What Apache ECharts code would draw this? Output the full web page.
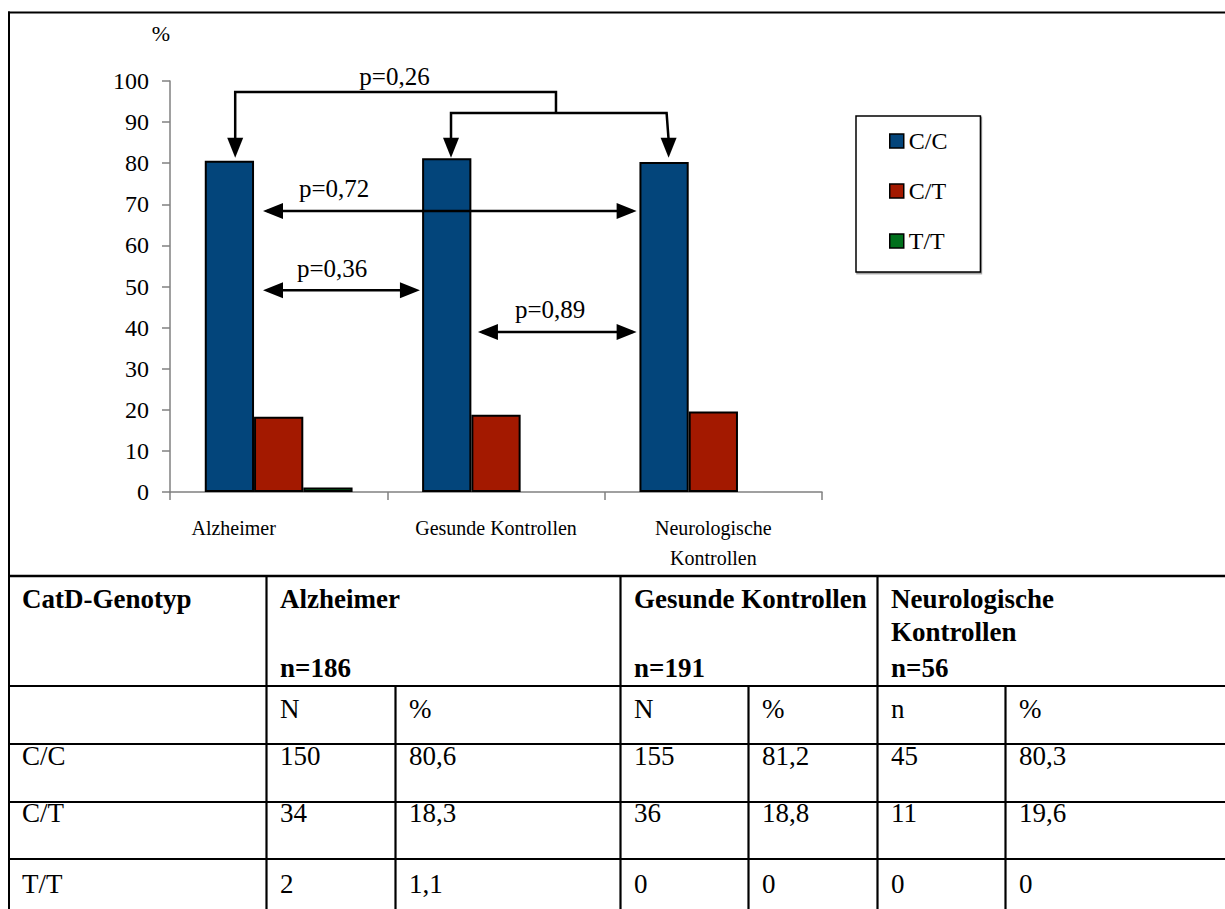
<!DOCTYPE html>
<html>
<head>
<meta charset="utf-8">
<title>CatD-Genotyp</title>
<script src="https://cdn.jsdelivr.net/npm/echarts@6/dist/echarts.min.js"></script>
<style>
  html, body { margin: 0; padding: 0; background: #fff; }
  #chart { width: 1225px; height: 909px; }
</style>
</head>
<body>
<div id="chart"></div>
<script>
// Patient groups and genotypes
const groups = ['Alzheimer', 'Gesunde Kontrollen', 'Neurologische\nKontrollen'];
const genotypes = ['C/C', 'C/T', 'T/T'];
const groupSizes = [186, 191, 56];
const countHeaders = ['N', 'N', 'n'];

// Absolute counts per genotype
const countCC = [150, 155, 45];
const countCT = [34, 36, 11];
const countTT = [2, 0, 0];

// Percentages per genotype (bar heights)
const pctCC = [80.6, 81.2, 80.3];
const pctCT = [18.3, 18.8, 19.6];
const pctTT = [1.1, 0, 0];

// Value axis
const yMin = 0;
const yMax = 100;
const yStep = 10;

// p-values of the pairwise group comparisons
const pLabels = ['p=0,26', 'p=0,72', 'p=0,36', 'p=0,89'];

const colors = ['#03457B', '#A31900', '#00701C'];
const FONT = 'Liberation Serif, Times New Roman, serif';

const pctSeries = [pctCC, pctCT, pctTT];

const chart = echarts.init(document.getElementById('chart'), null, { renderer: 'svg' });

const option = {
  animation: false,
  backgroundColor: '#fff',
  grid: { left: 170, right: 403, top: 81, bottom: 417, containLabel: false, outerBoundsMode: 'none' },
  legend: {
    orient: 'vertical',
    left: 856,
    top: 116,
    data: genotypes,
    icon: 'rect',
    itemWidth: 14,
    itemHeight: 14,
    itemGap: 26,
    padding: [13, 33, 19, 33],
    borderColor: '#000',
    borderWidth: 1.5,
    backgroundColor: '#fff',
    shadowColor: 'rgba(0,0,0,0.4)',
    shadowOffsetX: 1,
    shadowOffsetY: 1.5,
    shadowBlur: 0,
    selectedMode: false,
    itemStyle: { borderColor: '#000', borderWidth: 1.5 },
    textStyle: { fontFamily: FONT, fontSize: 24, lineHeight: 24, color: '#000' }
  },
  xAxis: {
    type: 'category',
    data: groups,
    boundaryGap: true,
    axisLine: { lineStyle: { color: '#808080', width: 1.5 } },
    axisTick: { show: true, length: 8, alignWithLabel: false, lineStyle: { color: '#808080', width: 1.5 } },
    axisLabel: {
      interval: 0,
      margin: 21,
      color: '#000',
      fontFamily: FONT,
      fontSize: 20,
      lineHeight: 30,
      formatter: (value, index) => index === 0 ? '{shift|' + value + '}' : value,
      rich: {
        shift: { padding: [0, 90, 0, 0], fontFamily: FONT, fontSize: 20, lineHeight: 30, color: '#000' }
      }
    },
    splitLine: { show: false }
  },
  yAxis: {
    type: 'value',
    min: yMin,
    max: yMax,
    interval: yStep,
    name: '%',
    nameLocation: 'end',
    nameGap: 37,
    nameTextStyle: { fontFamily: FONT, fontSize: 22, lineHeight: 22, color: '#000', align: 'right', verticalAlign: 'bottom' },
    axisLine: { show: true, lineStyle: { color: '#808080', width: 1.5 } },
    axisTick: { show: true, length: 8, lineStyle: { color: '#808080', width: 1.5 } },
    axisLabel: { margin: 21, color: '#000', fontFamily: FONT, fontSize: 24 },
    splitLine: { show: false }
  },
  series: genotypes.map((g, i) => ({
    name: g,
    type: 'bar',
    barGap: '0%',
    barCategoryGap: '32%',
    itemStyle: { color: colors[i], borderColor: '#000', borderWidth: 2 },
    emphasis: { disabled: true },
    data: pctSeries[i].map(v => v === 0 ? { value: 0, itemStyle: { borderWidth: 0 } } : v)
  }))
};

chart.setOption(option);

// ---- comparison arrows, placed through the chart's own scales ----
const band = chart.convertToPixel({ xAxisIndex: 0 }, 1) - chart.convertToPixel({ xAxisIndex: 0 }, 0);
const px = (cat, frac) => chart.convertToPixel({ xAxisIndex: 0 }, cat) + frac * band;
const py = v => chart.convertToPixel({ yAxisIndex: 0 }, v);

const LW = 2.5;
const HEAD_L = 20, HEAD_W = 8;
const lineStyle = { stroke: '#000', lineWidth: LW, fill: null };

function polyline(points) {
  return { type: 'polyline', shape: { points }, style: lineStyle, silent: true, z: 50 };
}
function head(points) {
  return { type: 'polygon', shape: { points }, style: { fill: '#000' }, silent: true, z: 51 };
}
function headDown(x, tip) { return head([[x - HEAD_W, tip - HEAD_L], [x + HEAD_W, tip - HEAD_L], [x, tip]]); }
function headLeft(tip, y) { return head([[tip, y], [tip + HEAD_L, y - HEAD_W], [tip + HEAD_L, y + HEAD_W]]); }
function headRight(tip, y) { return head([[tip, y], [tip - HEAD_L, y - HEAD_W], [tip - HEAD_L, y + HEAD_W]]); }
function doubleArrow(x1, x2, y) {
  return [polyline([[x1 + 4, y], [x2 - 4, y]]), headLeft(x1, y), headRight(x2, y)];
}
function label(x, baseline, text, size, opts) {
  const o = opts || {};
  return {
    type: 'text', x, y: baseline - 0.34 * size, silent: true, z: 60,
    style: {
      text, fill: '#000', fontFamily: FONT, fontSize: size, fontWeight: o.bold ? 'bold' : 'normal',
      align: o.align || 'left', verticalAlign: 'middle', lineHeight: size
    }
  };
}

const annot = [];
// bracket: Alzheimer vs. both control groups
const yTop = py(97.3), yMid = py(92.2), yTip = py(81.3);
const xA = px(0, -0.2), xJ = px(1, 0.276), xG = px(1, -0.207), xN = px(2, -0.215);
annot.push(polyline([[xA, yTip - HEAD_L + 2], [xA, yTop], [xJ, yTop], [xJ, yMid]]));
annot.push(polyline([[xG, yTip - HEAD_L + 2], [xG, yMid], [xN, yMid], [xN + 2, yTip - HEAD_L + 2]]));
annot.push(headDown(xA, yTip), headDown(xG, yTip), headDown(xN + 2, yTip));
annot.push(label(px(0, 0.533), py(99.0), pLabels[0], 25, { align: 'center' }));

// pairwise double arrows
annot.push(...doubleArrow(px(0, -0.072), px(2, -0.353), py(68.4)));
annot.push(label(px(0, 0.255), py(71.8), pLabels[1], 25, { align: 'center' }));
annot.push(...doubleArrow(px(0, -0.072), px(1, -0.35), py(49.1)));
annot.push(label(px(0, 0.246), py(52.3), pLabels[2], 25, { align: 'center' }));
annot.push(...doubleArrow(px(1, -0.083), px(2, -0.353), py(38.9)));
annot.push(label(px(1, 0.249), py(42.3), pLabels[3], 25, { align: 'center' }));

// ---- frame and table ----
const W = 1225, H = 909;
const frameLeft = 9, frameTop = 12.5;
const colLines = [266, 395, 620, 748, 877, 1005];
const groupCols = [266, 620, 877];
const rowLines = [576, 686, 744, 802, 859];
const TXT_PAD = 14;
const TFS = 27;

function seg(x1, y1, x2, y2, w) {
  return { type: 'line', shape: { x1, y1, x2, y2 }, style: { stroke: '#000', lineWidth: w || 2 }, silent: true, z: 40 };
}

const table = [];
table.push(seg(frameLeft, frameTop - 1, frameLeft, H, 2));
table.push(seg(frameLeft - 1, frameTop, W, frameTop, 2));
rowLines.forEach((y, i) => table.push(seg(frameLeft - 1, y, W, y, i === 0 ? 2.5 : 2.2)));
colLines.forEach(x => {
  const y0 = groupCols.includes(x) ? rowLines[0] : rowLines[1];
  table.push(seg(x + 0.5, y0, x + 0.5, H, 2.2));
});

// header row
table.push(label(frameLeft + 13, 608, 'CatD-Genotyp', TFS, { bold: true }));
groups.forEach((g, i) => {
  const x = groupCols[i] + TXT_PAD;
  g.split('\n').forEach((line, k) => table.push(label(x, 608 + k * 33, line, TFS, { bold: true })));
  table.push(label(x, 677, 'n=' + groupSizes[i], TFS, { bold: true }));
});

// sub header row
groups.forEach((g, i) => {
  table.push(label(colLines[i * 2] + TXT_PAD, 718, countHeaders[i], TFS));
  table.push(label(colLines[i * 2 + 1] + TXT_PAD, 718, '%', TFS));
});

// genotype rows
const fmt = v => String(v).replace('.', ',');
const rowCounts = [countCC, countCT, countTT];
const rowBaselines = [765, 822, 893];
genotypes.forEach((g, r) => {
  table.push(label(frameLeft + 13, rowBaselines[r], g, TFS));
  groups.forEach((grp, i) => {
    table.push(label(colLines[i * 2] + TXT_PAD, rowBaselines[r], fmt(rowCounts[r][i]), TFS));
    table.push(label(colLines[i * 2 + 1] + TXT_PAD, rowBaselines[r], fmt(pctSeries[r][i]), TFS));
  });
});

chart.setOption({ graphic: { elements: annot.concat(table) } });
</script>
</body>
</html>
